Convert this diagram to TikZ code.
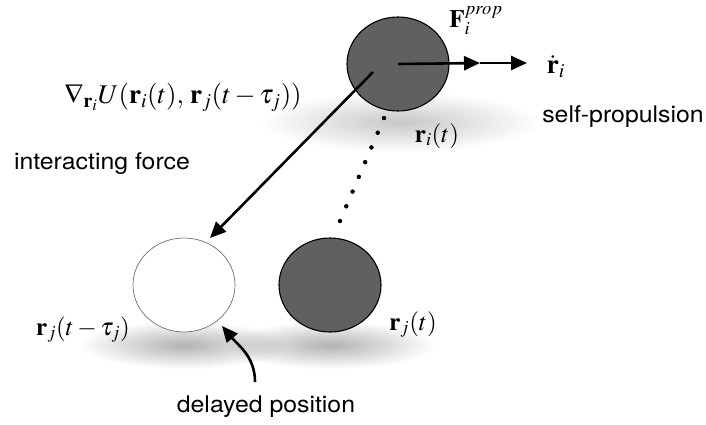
\documentclass[tikz,border=0pt]{standalone}
\usepackage{mathptmx}
\usepackage{fontspec}
\setmainfont{TeX Gyre Termes}
\setsansfont{TeX Gyre Heros}[FakeStretch=1.08]
\usetikzlibrary{arrows.meta,positioning,shapes.geometric,fadings}
\definecolor{dark}{HTML}{606060}
\definecolor{rim}{HTML}{707070}
\tikzfading[name=soft,inner color=transparent!0,outer color=transparent!100]
\tikzset{ball/.style={ellipse,draw=black,line width=1.1pt,minimum width=102pt,minimum height=94pt,inner sep=0pt},shadow/.style={fill=black,opacity=0.3,path fading=soft},arrow/.style={-{Triangle[length=16pt,width=14pt]},line width=2.6pt},dots/.style={line width=4.5pt,line cap=round,dash pattern=on 0pt off 16pt},lab/.style={font=\fontsize{25}{30}\selectfont,inner sep=0pt,anchor=base},txt/.style={font=\sffamily\fontsize{23}{27}\selectfont,inner sep=0pt,anchor=base}}

\begin{document}
\begin{tikzpicture}[x=1pt,y=-1pt]
\useasboundingbox (0,0) rectangle (706,424);
\fill[shadow,opacity=0.22] (400,122) ellipse (140 and 30);
\fill[shadow] (184,345) ellipse (105 and 24);
\fill[shadow] (330,345) ellipse (105 and 24);
\node[ball,fill=dark] (pi) at (398,64) {};
\node[ball,fill=white,draw=rim,line width=0.7pt] (pd) at (184,285) {};
\node[ball,fill=dark] (pj) at (330,285) {};
\coordinate (s1) at (480,63);\coordinate (s2) at (527,63);
\coordinate (u0) at (373,72);\coordinate (u1) at (210,238);
\coordinate (d0) at (384,118);\coordinate (d1) at (340,221);
\coordinate (c0) at (255,382);\coordinate (c1) at (222,326);
\draw[arrow](pi.center)--(s1);\draw[arrow](s1)--(s2);
\draw[arrow](u0)--(u1);
\draw[dots](d0)--(d1);
\draw[arrow](c0) to[out=90,in=-50] (c1);
\node[lab] (fp) at (476,27) {$\mathbf{F}_i^{prop}$};
\node[lab,font=\fontsize{27}{30}\selectfont] (rd) at (556,73) {$\dot{\mathbf{r}}_i$};
\node[lab] (ri) at (437,142) {$\mathbf{r}_i(t)$};
\node[lab,font=\fontsize{27}{30}\selectfont] (gu) at (183,103) {$\nabla_{\mathbf{r}_i}U(\mathbf{r}_i(t),\,\mathbf{r}_j(t-\tau_j))$};
\node[lab] (rdt) at (83,335) {$\mathbf{r}_j(t-\tau_j)$};
\node[lab] (rj) at (413,330) {$\mathbf{r}_j(t)$};
\node[txt] (sp) at (623,122) {self-propulsion};
\node[txt] (inf) at (102,169) {interacting force};
\node[txt] (dp) at (266,412) {delayed position};
\end{tikzpicture}
\end{document}
